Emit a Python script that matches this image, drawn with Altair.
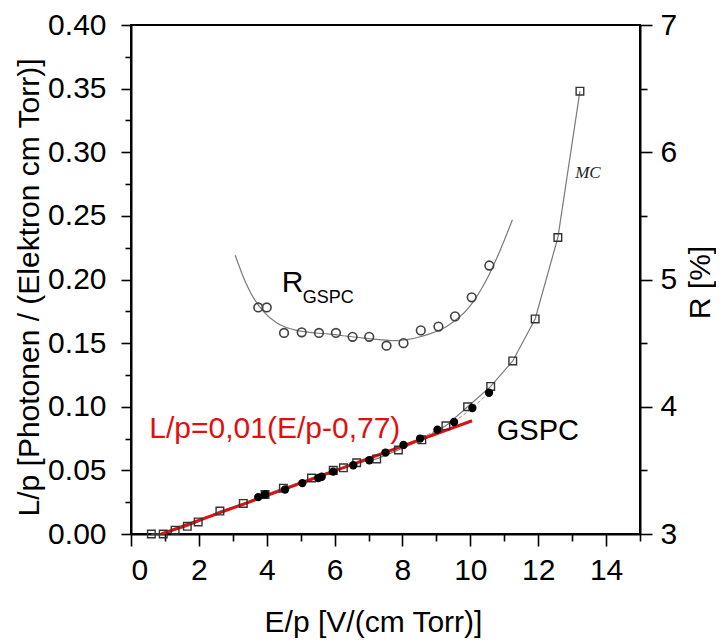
import altair as alt
import pandas as pd

# MC (open squares), left axis
mc_x = [0.6, 0.95, 1.3, 1.66, 1.98, 2.62, 3.31, 3.95, 4.49, 5.32, 5.96, 6.26, 6.65, 7.24, 7.88,
        8.57, 9.28, 9.92, 10.6, 11.25, 11.91, 12.58, 13.23]
mc_y = [0.000, 0.000, 0.003, 0.006, 0.0095, 0.018, 0.024, 0.031, 0.036, 0.044, 0.050, 0.052, 0.056,
        0.059, 0.066, 0.074, 0.085, 0.100, 0.116, 0.136, 0.169, 0.233, 0.348]

# GSPC (filled circles), left axis
gs_x = [3.75, 3.95, 4.54, 5.05, 5.52, 5.62, 5.96, 6.55, 7.02, 7.5, 8.03, 8.52, 9.03, 9.52, 10.06, 10.55]
gs_y = [0.029, 0.031, 0.035, 0.040, 0.044, 0.045, 0.049, 0.054, 0.058, 0.064, 0.070, 0.075, 0.082,
        0.088, 0.099, 0.111]

# red fit line L/p = 0,01(E/p-0,77)
fit_x = [0.9, 10.05]
fit_y = [0.0, 0.089]

# R_GSPC (open circles), right axis
r_x = [3.75, 4.0, 4.51, 5.03, 5.54, 6.04, 6.53, 7.02, 7.53, 8.03, 8.54, 9.06, 9.55, 10.04, 10.56]
r_y = [4.78, 4.78, 4.58, 4.585, 4.58, 4.58, 4.55, 4.55, 4.48, 4.50, 4.60, 4.63, 4.71, 4.86, 5.11]

# R curve (thin gray), right axis
rc_x = [3.07, 3.31, 3.6, 3.9, 4.29, 4.88, 5.86, 6.85, 7.83, 8.52, 9.30, 9.99, 10.48, 10.88, 11.24]
rc_y = [5.19, 5.02, 4.86, 4.75, 4.66, 4.60, 4.57, 4.54, 4.52, 4.55, 4.63, 4.79, 5.0, 5.23, 5.47]

x_ticks = list(range(0, 16))
y_ticks = [i * 0.025 for i in range(17)]
r_ticks = [3 + i * 0.5 for i in range(9)]

FONT = "Liberation Sans"

xaxis = alt.Axis(
    values=x_ticks,
    labelExpr="datum.value % 2 == 0 && datum.value < 15 ? datum.value : ''",
    tickSize={"condition": {"test": "datum.value % 2 == 0", "value": 12}, "value": 7},
    labelPadding=9, labelFontSize=30, grid=False, title="E/p [V/(cm Torr)]",
    titleX=242, titleY=88, titleBaseline="middle", titleFontSize=30,
)
yaxis = alt.Axis(
    values=y_ticks,
    labelExpr="abs(datum.value*20 - round(datum.value*20)) < 0.001 ? format(datum.value, '.2f') : ''",
    tickSize={"condition": {"test": "abs(datum.value*20 - round(datum.value*20)) < 0.001", "value": 10}, "value": 6},
    labelPadding=15, labelFontSize=30, grid=False,
    title="L/p [Photonen / (Elektron cm Torr)]",
    titleX=-102, titleY=262, titleAngle=270, titleBaseline="middle", titleFontSize=30,
)
raxis = alt.Axis(
    orient="right", values=r_ticks,
    labelExpr="datum.value % 1 == 0 ? datum.value : ''",
    tickSize={"condition": {"test": "datum.value % 1 == 0", "value": 12}, "value": 7},
    labelPadding=8, labelFontSize=30, grid=False, title="R [%]",
    titleX=60, titleY=257, titleAngle=270, titleBaseline="middle", titleFontSize=30,
)

xs = alt.Scale(domain=[0, 15], nice=False, zero=False)
ys = alt.Scale(domain=[0, 0.4], nice=False)
rs = alt.Scale(domain=[3, 7], nice=False, zero=False)

X = alt.X("x:Q", scale=xs, axis=xaxis)
Y = alt.Y("y:Q", scale=ys, axis=yaxis)
R = alt.Y("y:Q", scale=rs, axis=raxis)

mc_df = pd.DataFrame({"x": mc_x, "y": mc_y})
gs_df = pd.DataFrame({"x": gs_x, "y": gs_y})
fit_df = pd.DataFrame({"x": fit_x, "y": fit_y})
r_df = pd.DataFrame({"x": r_x, "y": r_y})
rc_df = pd.DataFrame({"x": rc_x, "y": rc_y})

mc_line = alt.Chart(mc_df).mark_line(color="#7a7a7a", strokeWidth=1.2).encode(x=X, y=Y, order="x:Q")
gs_line = alt.Chart(gs_df).mark_line(color="#999999", strokeWidth=1, strokeDash=[4, 2]).encode(x=X, y=Y, order="x:Q")
mc_pts = alt.Chart(mc_df).mark_point(shape="square", filled=False, color="#333333", size=58, strokeWidth=1.4, opacity=1).encode(x=X, y=Y)
gs_pts = alt.Chart(gs_df).mark_point(shape="circle", filled=True, color="#000000", size=70, opacity=1).encode(x=X, y=Y)
fit_line = alt.Chart(fit_df).mark_line(color="#e01010", strokeWidth=3).encode(x=X, y=Y)

labels = pd.DataFrame({
    "x": [4.44, 5.06, 10.78, 0.54, 13.09],
    "y": [0.1904, 0.1813, 0.0739, 0.0752, 0.2795],
    "t": ["R", "GSPC", "GSPC", "L/p=0,01(E/p-0,77)", "MC"],
    "k": ["R", "sub", "gspc", "fit", "mc"],
})

def txt(k, **kw):
    return alt.Chart(labels[labels.k == k]).mark_text(align="left", baseline="alphabetic", **kw).encode(
        x=X, y=Y, text="t:N")

t_r = txt("R", fontSize=30, font=FONT, color="black")
t_sub = txt("sub", fontSize=18, font=FONT, color="black")
t_gspc = txt("gspc", fontSize=29, font=FONT, color="black")
t_fit = txt("fit", fontSize=30, font=FONT, color="#e01010")
t_mc = txt("mc", fontSize=17, font="Liberation Serif", fontStyle="italic", color="#222222")

left = alt.layer(mc_line, gs_line, fit_line, mc_pts, gs_pts, t_r, t_sub, t_gspc, t_fit, t_mc)

rc_line = alt.Chart(rc_df).mark_line(color="#7a7a7a", strokeWidth=1.2, interpolate="monotone").encode(x=X, y=R, order="x:Q")
r_pts = alt.Chart(r_df).mark_point(shape="circle", filled=False, color="#404040", size=75, strokeWidth=1.6, opacity=1).encode(x=X, y=R)
right = alt.layer(rc_line, r_pts)

chart = alt.layer(left, right).resolve_scale(y="independent").properties(
    width=509, height=509,
    padding={"left": 123, "top": 17, "right": 76, "bottom": 110},
    autosize=alt.AutoSizeParams(type="none"),
    background="white",
).configure_view(stroke="black", strokeWidth=2).configure_axis(
    domainColor="black", domainWidth=2, tickColor="black", tickWidth=1.6,
    labelColor="black", titleColor="black", labelFont=FONT, titleFont=FONT,
    titleFontWeight="normal",
)

chart.save("out.html", embed_options={"renderer": "svg", "actions": False})
